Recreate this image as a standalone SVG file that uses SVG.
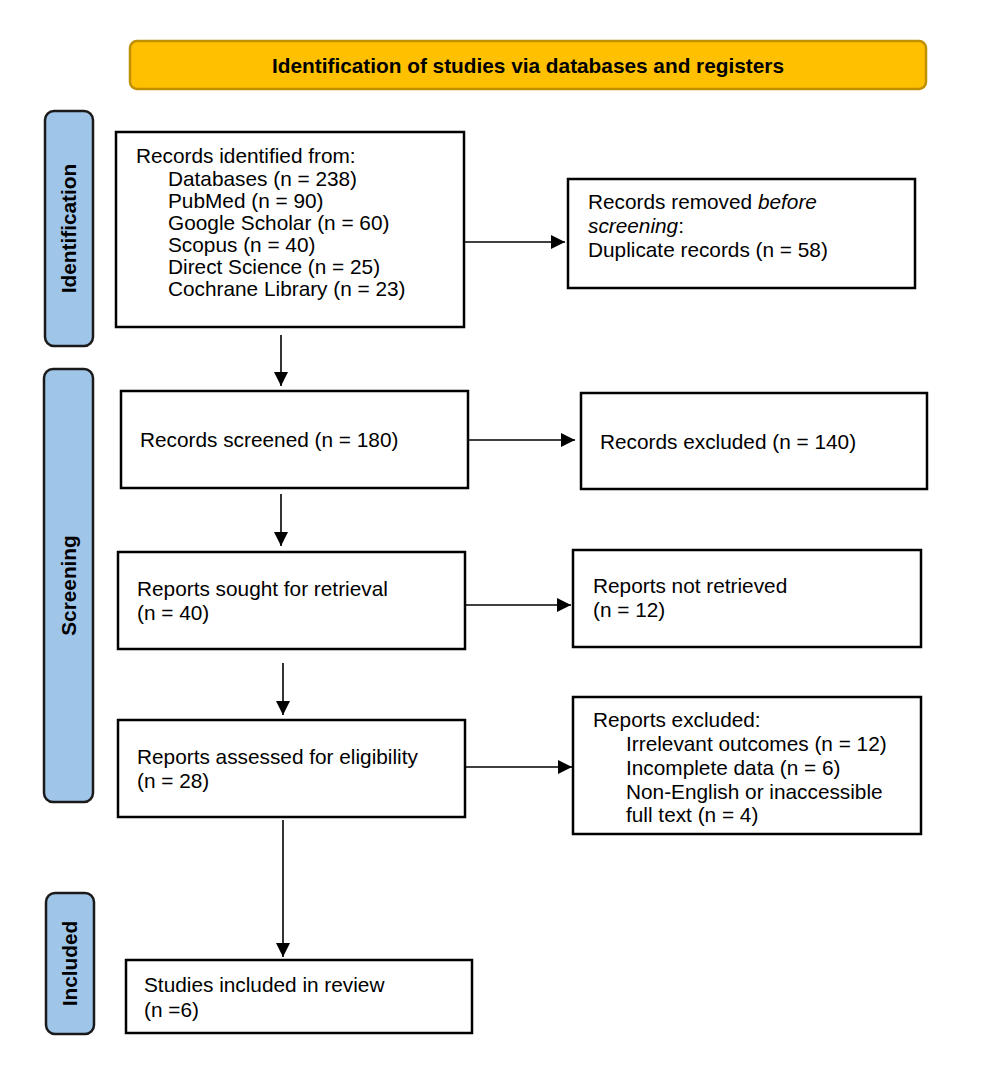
<svg xmlns="http://www.w3.org/2000/svg" width="986" height="1085" viewBox="0 0 986 1085">
<style>
.box{fill:#fff;stroke:#000;stroke-width:2.5}
.side{fill:#9FC5E8;stroke:#1a1a1a;stroke-width:2.5}
.t{font-family:"Liberation Sans",Arial,sans-serif;font-size:20.8px;fill:#000}
.sb{font-family:"Liberation Sans",Arial,sans-serif;font-size:20.8px;font-weight:bold;fill:#000;text-anchor:middle}
.c{stroke:#000;stroke-width:1.6;fill:none;marker-end:url(#ah)}
</style>
<defs>
<marker id="ah" viewBox="0 0 10 10" refX="10" refY="5" markerWidth="15" markerHeight="14" markerUnits="userSpaceOnUse" orient="auto">
<path d="M0,0 L10,5 L0,10 z" fill="#000"/>
</marker>
</defs>
<rect width="986" height="1085" fill="#fff"/>
<g id="header">
<rect x="130" y="41" width="796" height="48" rx="7" fill="#FFC000" stroke="#BF9000" stroke-width="2.5"/>
<text class="sb" x="528" y="73">Identification of studies via databases and registers</text>
</g>
<g id="side-identification">
<rect class="side" x="45" y="111" width="48" height="235" rx="9"/>
<text class="sb" transform="translate(76,228.5) rotate(-90)">Identification</text>
</g>
<g id="side-screening">
<rect class="side" x="44" y="369" width="49" height="433" rx="9"/>
<text class="sb" transform="translate(76,585.5) rotate(-90)">Screening</text>
</g>
<g id="side-included">
<rect class="side" x="46" y="893" width="48" height="141" rx="9"/>
<text class="sb" transform="translate(77,963.5) rotate(-90)">Included</text>
</g>
<g id="identified">
<rect class="box" x="116" y="132" width="348" height="195"/>
<text class="t" x="136" y="163">Records identified from:</text>
<text class="t" x="168" y="186">Databases (n = 238)</text>
<text class="t" x="168" y="208">PubMed (n = 90)</text>
<text class="t" x="168" y="230">Google Scholar (n = 60)</text>
<text class="t" x="168" y="252">Scopus (n = 40)</text>
<text class="t" x="168" y="274">Direct Science (n = 25)</text>
<text class="t" x="168" y="296">Cochrane Library (n = 23)</text>
</g>
<g id="removed">
<rect class="box" x="568" y="179" width="347" height="109"/>
<text class="t" x="588" y="209">Records removed <tspan font-style="italic">before</tspan></text>
<text class="t" x="588" y="233"><tspan font-style="italic">screening</tspan>:</text>
<text class="t" x="588" y="257">Duplicate records (n = 58)</text>
</g>
<g id="screened">
<rect class="box" x="121" y="391" width="347" height="97"/>
<text class="t" x="140" y="447">Records screened (n = 180)</text>
</g>
<g id="excluded">
<rect class="box" x="581" y="393" width="346" height="96"/>
<text class="t" x="600" y="449">Records excluded (n = 140)</text>
</g>
<g id="sought">
<rect class="box" x="118" y="552" width="347" height="97"/>
<text class="t" x="137" y="596">Reports sought for retrieval</text>
<text class="t" x="137" y="620">(n = 40)</text>
</g>
<g id="notretrieved">
<rect class="box" x="573" y="550" width="348" height="97"/>
<text class="t" x="593" y="593">Reports not retrieved</text>
<text class="t" x="593" y="617">(n = 12)</text>
</g>
<g id="assessed">
<rect class="box" x="118" y="720" width="347" height="97"/>
<text class="t" x="137" y="764">Reports assessed for eligibility</text>
<text class="t" x="137" y="788">(n = 28)</text>
</g>
<g id="reportsexcluded">
<rect class="box" x="573" y="697" width="348" height="137"/>
<text class="t" x="593" y="727">Reports excluded:</text>
<text class="t" x="626" y="751">Irrelevant outcomes (n = 12)</text>
<text class="t" x="626" y="775">Incomplete data (n = 6)</text>
<text class="t" x="626" y="799">Non-English or inaccessible</text>
<text class="t" x="626" y="822">full text (n = 4)</text>
</g>
<g id="included">
<rect class="box" x="126" y="960" width="346" height="73"/>
<text class="t" x="144" y="992">Studies included in review</text>
<text class="t" x="144" y="1017">(n =6)</text>
</g>
<g id="connectors">
<line class="c" x1="464" y1="242" x2="565" y2="242"/>
<line class="c" x1="281" y1="335" x2="281" y2="386"/>
<line class="c" x1="468" y1="440" x2="575" y2="440"/>
<line class="c" x1="281" y1="494" x2="281" y2="546"/>
<line class="c" x1="465" y1="605" x2="571" y2="605"/>
<line class="c" x1="283" y1="663" x2="283" y2="715"/>
<line class="c" x1="465" y1="767" x2="572" y2="767"/>
<line class="c" x1="283" y1="820" x2="283" y2="957"/>
</g>
</svg>
